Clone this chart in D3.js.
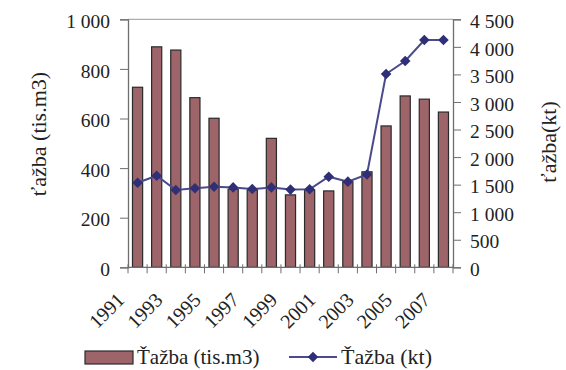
<!DOCTYPE html>
<html><head><meta charset="utf-8">
<script src="https://cdn.jsdelivr.net/npm/d3@7"></script>
<style>
body{margin:0;background:#fff;}
svg{display:block;}
svg text{font-family:"Liberation Serif","Times New Roman",Times,"Nimbus Roman","DejaVu Serif",serif !important;}
</style></head>
<body>
<script>
const years = [1991,1992,1993,1994,1995,1996,1997,1998,1999,2000,2001,2002,2003,2004,2005,2006,2007];
const volumeTisM3 = [726,889,876,684,601,315,312,520,292,312,308,345,385,570,691,678,626];
const massKt = [1535,1662,1403,1433,1463,1450,1420,1450,1410,1415,1644,1554,1685,3507,3743,4125,4125];
const leftTicks = [0,200,400,600,800,1000];
const rightTicks = [0,500,1000,1500,2000,2500,3000,3500,4000,4500];
const labelYears = [1991,1993,1995,1997,1999,2001,2003,2005,2007];
const seriesNames = ["Ťažba (tis.m3)", "Ťažba (kt)"];
const axisTitles = ["ťažba (tis.m3)", "ťažba(kt)"];

const W = 566, H = 370;
const L = 128, R = 453, T = 19.3, B = 267.3;
const barFill = "#9d6469", barStroke = "#2a2a2a", lineCol = "#4a4a8c", markCol = "#2f2f78", axisCol = "#6e6e6e", textCol = "#222";

const svg = d3.select("body").append("svg").attr("width", W).attr("height", H);

const x = d3.scaleBand().domain(years).range([L, R]).paddingInner(0.47).paddingOuter(0.235);
const xb = d3.scaleBand().domain(years).range([L, R]).padding(0);
const yL = d3.scaleLinear().domain([0, 1000]).range([B, T]);
const yR = d3.scaleLinear().domain([0, 4500]).range([B, T]);
const fmt = d3.formatLocale({decimal: ",", thousands: " ", grouping: [3], currency: ["", ""]}).format(",");

svg.append("line").attr("x1", L).attr("x2", R).attr("y1", T).attr("y2", T).attr("stroke", "#9a9a9a").attr("stroke-width", 1);

svg.append("g").selectAll("rect").data(years).join("rect")
  .attr("x", d => x(d)).attr("width", x.bandwidth())
  .attr("y", (d, i) => yL(volumeTisM3[i])).attr("height", (d, i) => B - yL(volumeTisM3[i]))
  .attr("fill", barFill).attr("stroke", barStroke).attr("stroke-width", 1.2);

const gL = svg.append("g").attr("transform", `translate(${L},0)`)
  .call(d3.axisLeft(yL).tickValues(leftTicks).tickFormat(fmt).tickSize(8).tickPadding(10));
const gR = svg.append("g").attr("transform", `translate(${R},0)`)
  .call(d3.axisRight(yR).tickValues(rightTicks).tickFormat(fmt).tickSize(8).tickPadding(9));
[gL, gR].forEach(g => {
  g.attr("font-family", null).attr("font-size", null);
  g.select(".domain").attr("stroke", axisCol).attr("stroke-width", 1.3);
  g.selectAll(".tick line").attr("stroke", axisCol).attr("stroke-width", 1);
  g.selectAll(".tick text").attr("font-size", 19.5).attr("fill", textCol).attr("dy", "0.42em");
});

svg.append("line").attr("x1", L).attr("x2", R).attr("y1", B).attr("y2", B).attr("stroke", axisCol).attr("stroke-width", 1.3);
const bounds = years.map(d => xb(d)).concat([xb(years[years.length - 1]) + xb.bandwidth()]);
svg.append("g").selectAll("line").data(bounds).join("line")
  .attr("x1", d => d).attr("x2", d => d).attr("y1", B - 3).attr("y2", B + 6)
  .attr("stroke", axisCol).attr("stroke-width", 1);

svg.append("g").selectAll("text").data(labelYears).join("text")
  .attr("transform", d => `translate(${x(d) + x.bandwidth() / 2 - 12},${B + 34}) rotate(-45)`)
  .attr("text-anchor", "end").attr("font-size", 20).attr("fill", textCol)
  .text(d => d);

const line = d3.line().x((d, i) => x(years[i]) + x.bandwidth() / 2).y(d => yR(d));
svg.append("path").datum(massKt).attr("d", line).attr("fill", "none").attr("stroke", lineCol).attr("stroke-width", 2);
const sym = d3.symbol().type(d3.symbolSquare).size(56);
svg.append("g").selectAll("path").data(massKt).join("path")
  .attr("d", sym)
  .attr("transform", (d, i) => `translate(${x(years[i]) + x.bandwidth() / 2},${yR(d)}) rotate(45)`)
  .attr("fill", markCol);

svg.append("text").attr("transform", "translate(46,134) rotate(-90)").attr("text-anchor", "middle")
  .attr("font-size", 22).attr("fill", textCol).text(axisTitles[0]);
svg.append("text").attr("transform", "translate(556,142) rotate(-90)").attr("text-anchor", "middle")
  .attr("font-size", 22).attr("fill", textCol).text(axisTitles[1]);

const lg = svg.append("g");
lg.append("rect").attr("x", 85).attr("y", 351).attr("width", 48).attr("height", 13)
  .attr("fill", barFill).attr("stroke", barStroke).attr("stroke-width", 1.2);
lg.append("text").attr("x", 137).attr("y", 364).attr("font-size", 21).attr("fill", textCol).text(seriesNames[0]);
lg.append("line").attr("x1", 289).attr("x2", 337).attr("y1", 357).attr("y2", 357).attr("stroke", lineCol).attr("stroke-width", 2);
lg.append("path").attr("d", sym).attr("transform", "translate(313,357) rotate(45)").attr("fill", markCol);
lg.append("text").attr("x", 341).attr("y", 364).attr("font-size", 22).attr("fill", textCol).text(seriesNames[1]);
</script>
</body></html>
